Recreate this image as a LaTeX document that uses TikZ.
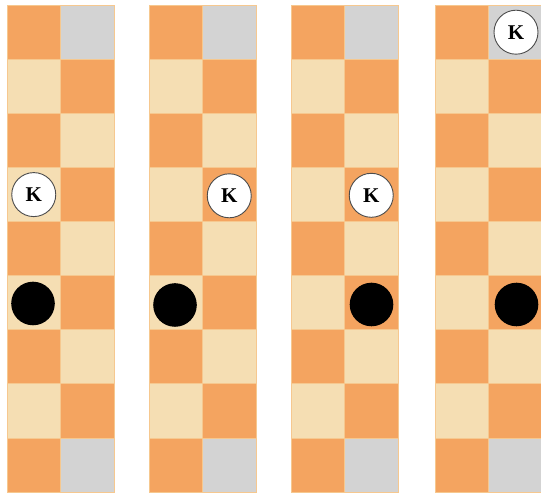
\documentclass[tikz,border=0pt]{standalone}
\usepackage{fontspec}
\setmainfont{Liberation Serif}
\definecolor{sqdark}{HTML}{F4A460}
\definecolor{sqlight}{HTML}{F5DEB3}
\definecolor{sqgray}{HTML}{D3D3D3}
\definecolor{sqline}{HTML}{F6C88F}
\tikzset{
  cell/.style={draw=sqline, line width=0.5pt},
  king/.style={circle, draw=black!70, line width=0.9pt, fill=white, minimum size=44pt, inner sep=0pt,
    font=\fontsize{21}{21}\selectfont\bfseries},
  pawn/.style={circle, fill=black, minimum size=43.6pt, inner sep=0pt}
}
\newcommand{\cw}{53.5}
\newcommand{\ch}{54.1}
\begin{document}
\begin{tikzpicture}[x=1pt,y=-1pt]
\useasboundingbox (0,0) rectangle (541,494);
\foreach \L [count=\b] in {7,149,291,435}{
  \foreach \r in {0,...,8}{
    \foreach \c in {0,1}{
      \pgfmathtruncatemacro\s{mod(\r+\c,2)}
      \ifnum\s=0 \def\col{sqdark}\else\def\col{sqlight}\fi
      \ifnum\c=1 \ifnum\r=0 \def\col{sqgray}\fi \ifnum\r=8 \def\col{sqgray}\fi\fi
      \path[cell, fill=\col] ({\L+\cw*\c},{5+\ch*\r}) rectangle ++(\cw,\ch);
    }
  }
}
% kings
\node[king] (k1) at ({7+26.75},{5+\ch*3+27.3}) {K};
\node[king] (k2) at ({149+\cw+26.75},{5+\ch*3+28.5}) {K};
\node[king] (k3) at ({291+\cw+26.75},{5+\ch*3+28}) {K};
\node[king] (k4) at ({435+\cw+27.5},{5+27.2}) {K};
% black pieces
\node[pawn] (p1) at ({7+26},{5+\ch*5+28}) {};
\node[pawn] (p2) at ({149+26},{5+\ch*5+29.5}) {};
\node[pawn] (p3) at ({291+\cw+27},{5+\ch*5+29}) {};
\node[pawn] (p4) at ({435+\cw+28},{5+\ch*5+29}) {};
\end{tikzpicture}
\end{document}
